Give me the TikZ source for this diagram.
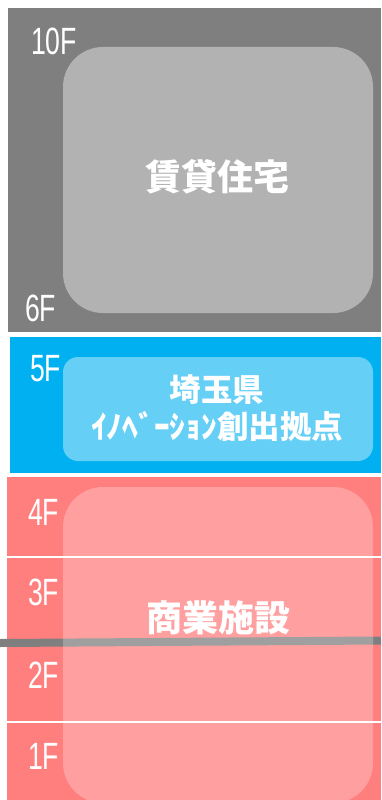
\documentclass[tikz,border=0pt]{standalone}
\usepackage{fontspec}
\newfontfamily\cjk{Noto Sans CJK JP}
\newfontfamily\flr{Liberation Sans}[FakeStretch=0.7]
\definecolor{rentgray}{HTML}{7F7F7F}
\definecolor{prefblue}{HTML}{00B0F0}
\definecolor{shoppink}{HTML}{FF7F7F}
\tikzset{
  block/.style={inner sep=0pt,outer sep=0pt,anchor=north west},
  usebox/.style={block,fill=white,fill opacity=#1},
  usetext/.style={text=white,align=center,font=\cjk\bfseries\fontsize{#1}{37}\selectfont},
  floor/.style={text=white,inner sep=0pt,anchor=west,font=\flr\fontsize{38}{38}\selectfont}
}
\begin{document}
\begin{tikzpicture}[x=1pt,y=-1pt]
	\useasboundingbox (0,0) rectangle (381,800);
	% floors 6-10
	\node[block,fill=rentgray,minimum width=373pt,minimum height=324pt] (rent) at (8,8) {};
	\node[usebox=0.4,rounded corners=40pt,minimum width=310pt,minimum height=266pt] (rentbox) at (63,47) {};
	\node[usetext=36] (renttxt) at (217,177) {賃貸住宅};
	\node[floor] (f10) at (31,41.5) {10F};
	\node[floor] (f6) at (25,308.5) {6F};
	% floor 5
	\node[block,fill=prefblue,minimum width=371pt,minimum height=136pt] (pref) at (10,337) {};
	\node[usebox=0.4,rounded corners=15pt,minimum width=310pt,minimum height=104pt] (prefbox) at (63,357) {};
	\node[usetext=31.5] (preftxt) at (217,408.5) {埼玉県\\ｲﾉﾍﾞｰｼｮﾝ創出拠点};
	\node[floor] (f5) at (30,369) {5F};
	% floors 1-4
	\node[block,fill=shoppink,minimum width=374pt,minimum height=323pt] (shop) at (7,477) {};
	\foreach \y [count=\i] in {557,722}
	\draw[white,line width=1.2pt] (7,\y) coordinate (fl\i) -- (381,\y) coordinate (fr\i);
	\coordinate (barL) at (0,643);
	\coordinate (barR) at (381,640.5);
	\draw[rentgray,line width=8pt] (barL) -- (barR);
	\node[usebox=0.25,rounded corners=40pt,minimum width=310pt,minimum height=316pt] (shopbox) at (63,487) {};
	\node[usetext=36] (shoptxt) at (218,618) {商業施設};
	\foreach \f/\y in {4/512,3/592,2/675,1/756}
	\node[floor] (f\f) at (28,\y) {\f F};
\end{tikzpicture}
\end{document}
